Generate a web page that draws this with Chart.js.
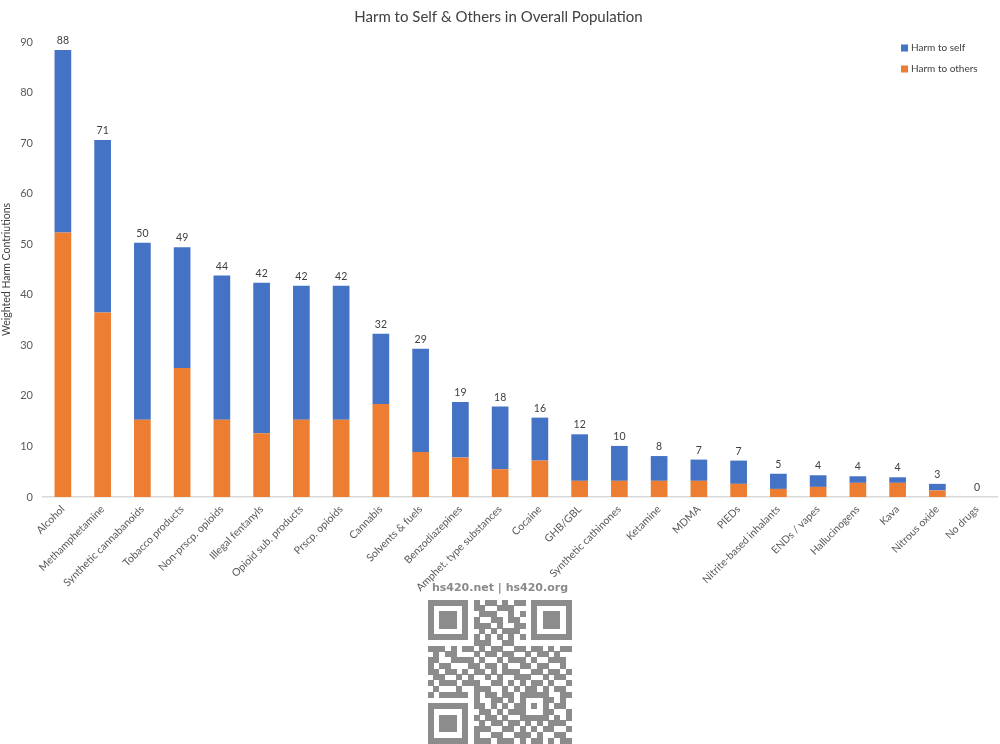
<!DOCTYPE html>
<html>
<head>
<meta charset="utf-8">
<script src="https://cdn.jsdelivr.net/npm/chart.js@4.4.1/dist/chart.umd.min.js"></script>
<style>
  html, body { margin: 0; padding: 0; background: #fff; }
  #wrap { position: relative; width: 1000px; height: 744px; overflow: hidden; }
  #chartBox { position: absolute; left: 0; top: 0; width: 1000px; height: 600px; }
  #site { position: absolute; left: 0; top: 581px; width: 1000px; text-align: center;
          font-family: "DejaVu Sans", sans-serif; font-weight: bold; font-size: 11px; color: #8a8a8a; }
  #qr { position: absolute; left: 428px; top: 600px; }
</style>
</head>
<body>
<div id="wrap">
  <div id="chartBox"><canvas id="c"></canvas></div>
  <div id="site">hs420.net | hs420.org</div>
  <canvas id="qr" width="144" height="144"></canvas>
</div>
<script>
const categories = ["Alcohol","Methamphetamine","Synthetic cannabanoids","Tobacco products","Non-prscp. opioids",
  "Illegal fentanyls","Opioid sub. products","Prscp. opioids","Cannabis","Solvents & fuels","Benzodiazepines",
  "Amphet. type substances","Cocaine","GHB/GBL","Synthetic cathinones","Ketamine","MDMA","PIEDs",
  "Nitrite-based inhalants","ENDs / vapes","Hallucinogens","Kava","Nitrous oxide","No drugs"];
const harmToOthers = [52.3,36.5,15.3,25.5,15.3,12.6,15.3,15.3,18.4,8.9,7.8,5.5,7.2,3.2,3.2,3.2,3.2,2.6,1.6,2.0,2.8,2.8,1.3,0];
const harmToSelf   = [36.1,34.1,35.0,23.9,28.5,29.8,26.5,26.5,13.9,20.4,11.0,12.4,8.5,9.2,6.9,4.9,4.2,4.6,3.0,2.3,1.3,1.1,1.3,0];
const yMin = 0, yMax = 90, yStep = 10;
const seriesNames = ["Harm to self", "Harm to others"];

const BLUE = "#4472C4", ORANGE = "#ED7D31";
const FONT = "Lato, 'Open Sans', sans-serif";

const totalsPlugin = {
  id: "totals",
  afterDatasetsDraw(chart) {
    const ctx = chart.ctx;
    const metaTop = chart.getDatasetMeta(1);
    const metaBot = chart.getDatasetMeta(0);
    ctx.save();
    ctx.font = "10.5px " + FONT;
    ctx.fillStyle = "#404040";
    ctx.textAlign = "center";
    ctx.textBaseline = "bottom";
    categories.forEach((c, i) => {
      const el = metaTop.data[i];
      const top = Math.min(el.y, metaBot.data[i].y);
      const total = Math.round(harmToSelf[i] + harmToOthers[i]);
      ctx.fillText(String(total), el.x, top - 4);
    });
    ctx.restore();
  }
};

const legendPlugin = {
  id: "sideLegend",
  afterDraw(chart) {
    const ctx = chart.ctx;
    ctx.save();
    ctx.font = "10px " + FONT;
    ctx.textBaseline = "middle";
    ctx.textAlign = "left";
    const items = [[seriesNames[0], BLUE], [seriesNames[1], ORANGE]];
    items.forEach((it, k) => {
      const y = 48 + k * 21;
      ctx.fillStyle = it[1];
      ctx.fillRect(901, y - 3.5, 7, 7);
      ctx.fillStyle = "#404040";
      ctx.fillText(it[0], 911, y);
    });
    ctx.restore();
  }
};

new Chart(document.getElementById("c"), {
  type: "bar",
  data: {
    labels: categories,
    datasets: [
      { label: seriesNames[1], data: harmToOthers, backgroundColor: ORANGE, categoryPercentage: 1, barPercentage: 0.42 },
      { label: seriesNames[0], data: harmToSelf, backgroundColor: BLUE, categoryPercentage: 1, barPercentage: 0.42 }
    ]
  },
  options: {
    responsive: true,
    maintainAspectRatio: false,
    animation: false,
    layout: { padding: { left: 0, right: 3, top: 0, bottom: 0 } },
    plugins: {
      legend: { display: false },
      tooltip: { enabled: false },
      title: {
        display: true,
        text: "Harm to Self & Others in Overall Population",
        color: "#404040",
        font: { family: FONT, size: 15, weight: "normal" },
        padding: { top: 8, bottom: 16 }
      }
    },
    scales: {
      x: {
        stacked: true,
        grid: { display: false, drawTicks: false },
        border: { display: true, color: "#d9d9d9", width: 1.5 },
        ticks: { color: "#595959", font: { family: FONT, size: 10.5 }, maxRotation: 45, minRotation: 45, autoSkip: false, padding: 6 },
        afterFit(s) { s.height = 103; }
      },
      y: {
        stacked: true,
        min: yMin, max: yMax,
        grid: { display: false, drawTicks: false },
        border: { display: false },
        ticks: { stepSize: yStep, color: "#595959", font: { family: FONT, size: 11 }, padding: 10 },
        title: { display: true, text: "Weighted Harm Contriutions", color: "#404040", font: { family: FONT, size: 10.5 }, padding: 0 },
        afterFit(s) { s.width = 43; }
      }
    }
  },
  plugins: [totalsPlugin, legendPlugin]
});

// decorative QR block
const qrRows = [
"1111111010110101101111111",
"1000001011001110001000001",
"1011101001110010101011101",
"1011101010011011001011101",
"1011101011101001101011101",
"1000001001010111001000001",
"1111111010101010101111111",
"0000000011100110000000000",
"1110101101011001101101011",
"0101100010110110010110100",
"1100111101001011101001110",
"1011000110110100110110010",
"1101101011010111001101101",
"0110010100101001110010110",
"1011101110011010101101001",
"0100010011100101011010110",
"1011111010110110111110011",
"0000000010011010100011010",
"1111111011010101101010110",
"1000001001101011100011001",
"1011101010110100111110101",
"1011101001011011010101110",
"1011101011100110101011001",
"1000001010011001110100110",
"1111111011101110101101011"
];
(function(){
  const q = document.getElementById("qr").getContext("2d");
  const m = 144 / 25;
  q.fillStyle = "#8c8c8c";
  qrRows.forEach((r, i) => {
    for (let j = 0; j < Math.min(25, r.length); j++) {
      if (r[j] === "1") q.fillRect(Math.floor(j * m), Math.floor(i * m), Math.ceil(m), Math.ceil(m));
    }
  });
})();
</script>
</body>
</html>
